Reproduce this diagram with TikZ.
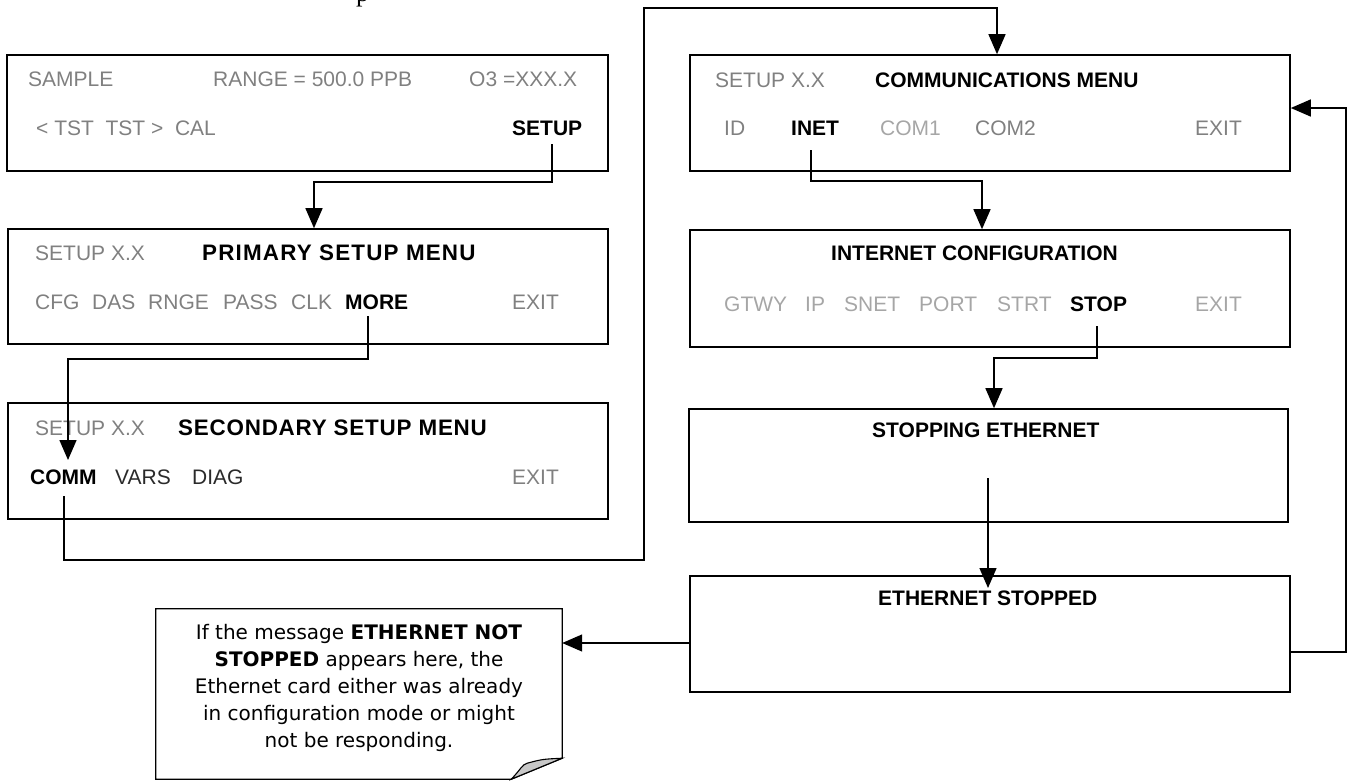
\documentclass[tikz,border=0pt]{standalone}
\usepackage{fontspec}
\setmainfont{Liberation Sans}
\newfontfamily\notefont{DejaVu Sans}
\newfontfamily\serifp{Liberation Serif}
\newfontfamily\titleA{Liberation Sans}[LetterSpace=5.3]
\newfontfamily\titleB{Liberation Sans}[LetterSpace=3.5]
\usetikzlibrary{arrows.meta,calc}
\definecolor{gA}{HTML}{808080}
\definecolor{gB}{HTML}{A6A6A6}
\definecolor{dk}{HTML}{2A2A2A}
\definecolor{foldgray}{HTML}{C8C8C8}
\tikzset{
  menubox/.style={draw, line width=1.6pt, inner sep=0pt},
  txt/.style={anchor=base west, inner sep=0pt, font=\fontsize{21pt}{25pt}\selectfont},
  gtxt/.style={txt, text=gA},
  ltxt/.style={txt, text=gB},
  dtxt/.style={txt, text=dk},
  btxt/.style={txt, font=\fontsize{21pt}{25pt}\selectfont\bfseries},
  ttlA/.style={txt, font=\titleA\fontsize{22.4pt}{26pt}\selectfont\bfseries},
  ttlB/.style={txt, font=\titleB\fontsize{22.4pt}{26pt}\selectfont\bfseries},
  conn/.style={line width=1.4pt, -{Triangle[length=20pt,width=17pt]}},
}
\begin{document}
\begin{tikzpicture}[x=1pt,y=-1pt]
\useasboundingbox (0,0) rectangle (1349,782);
% clipped glyph at the top
\node[anchor=base west, inner sep=0pt, font=\serifp\fontsize{26pt}{26pt}\selectfont] (ptop) at (356,1) {p};

% boxes
\node[menubox, minimum width=601pt, minimum height=116pt] (b1) at (307.5,113) {};
\node[menubox, minimum width=600pt, minimum height=115pt] (b2) at (308,286.5) {};
\node[menubox, minimum width=600pt, minimum height=116pt] (b3) at (308,461) {};
\node[menubox, minimum width=600pt, minimum height=116pt] (b4) at (990,113) {};
\node[menubox, minimum width=600pt, minimum height=117pt] (b5) at (990,288.5) {};
\node[menubox, minimum width=599pt, minimum height=113pt] (b6) at (988.5,465.5) {};
\node[menubox, minimum width=600pt, minimum height=116pt] (b7) at (990,634) {};

% box 1
\node[gtxt] (t11) at (28,86.5) {SAMPLE};
\node[gtxt] (t12) at (213,86.5) {RANGE = 500.0 PPB};
\node[gtxt] (t13) at (469,86.5) {O3 =XXX.X};
\node[gtxt] (t14) at (36,135.5) {< TST\ \ TST >\ \ CAL};
\node[btxt] (tsetup) at (512,135.5) {SETUP};

% box 2
\node[gtxt] (t21) at (35,260.5) {SETUP X.X};
\node[ttlA] (t22) at (202,260.5) {PRIMARY SETUP MENU};
\node[gtxt] (t23) at (35,309.5) {CFG};
\node[gtxt] (t24) at (92,309.5) {DAS};
\node[gtxt] (t25) at (148,309.5) {RNGE};
\node[gtxt] (t26) at (223,309.5) {PASS};
\node[gtxt] (t27) at (291,309.5) {CLK};
\node[btxt] (tmore) at (345,309.5) {MORE};
\node[gtxt] (t28) at (512,309.5) {EXIT};

% box 3
\node[gtxt] (t31) at (35,435.5) {SETUP X.X};
\node[ttlB] (t32) at (178,435.5) {SECONDARY SETUP MENU};
\node[btxt] (tcomm) at (30,484.5) {COMM};
\node[dtxt] (t33) at (115,484.5) {VARS};
\node[dtxt] (t34) at (192,484.5) {DIAG};
\node[gtxt] (t35) at (512,484.5) {EXIT};

% box 4
\node[gtxt] (t41) at (715,87.5) {SETUP X.X};
\node[btxt] (t42) at (875,87.5) {COMMUNICATIONS MENU};
\node[gtxt] (t43) at (724,135.5) {ID};
\node[btxt] (tinet) at (791,135.5) {INET};
\node[ltxt] (t44) at (880,135.5) {COM1};
\node[gtxt] (t45) at (975,135.5) {COM2};
\node[gtxt] (t46) at (1195,135.5) {EXIT};

% box 5
\node[btxt] (t51) at (831,260.5) {INTERNET CONFIGURATION};
\node[ltxt] (t52) at (724,311.5) {GTWY};
\node[ltxt] (t53) at (805,311.5) {IP};
\node[ltxt] (t54) at (844,311.5) {SNET};
\node[ltxt] (t55) at (919,311.5) {PORT};
\node[ltxt] (t56) at (997,311.5) {STRT};
\node[btxt] (tstop) at (1070,311.5) {STOP};
\node[ltxt] (t57) at (1195,311.5) {EXIT};

% box 6, 7
\node[btxt] (t61) at (872,437.5) {STOPPING ETHERNET};
\node[btxt] (t71) at (878,605.5) {ETHERNET STOPPED};

% note
\node[minimum width=406pt, minimum height=170pt, inner sep=0pt] (note) at (359,694) {};
\draw[line width=1.3pt, fill=white] (note.north west) -- (note.north east) -- ($(note.south east)+(0,-21)$) -- ($(note.south east)+(-51,0)$) -- (note.south west) -- cycle;
\filldraw[fill=foldgray, line width=1.1pt] ($(note.south east)+(-51,0)$) .. controls ($(note.south east)+(-42,-9)$) and ($(note.south east)+(-40,-15)$) .. ($(note.south east)+(-35,-16)$) .. controls ($(note.south east)+(-20,-20)$) .. ($(note.south east)+(0,-21)$) -- cycle;
\node[font=\notefont\fontsize{20pt}{27pt}\selectfont, align=center, inner sep=0pt] (notetxt) at (359,688)
  {If the message \textbf{ETHERNET NOT}\\ \textbf{STOPPED} appears here, the\\ Ethernet card either was already\\ in configuration mode or might\\ not be responding.};

% connectors
\coordinate (s1) at (552,144);
\coordinate (k1) at (314,182);
\draw[conn] (s1) |- (k1) -- (k1 |- b2.north);

\coordinate (s2) at (368,316);
\coordinate (k2) at (68,359);
\coordinate (e2) at (68,460);
\draw[conn] (s2) |- (k2) -- (e2);

\coordinate (s3) at (64,496);
\coordinate (k3a) at (644,560);
\coordinate (k3b) at (644,8);
\coordinate (k3c) at (997,8);
\draw[conn] (s3) |- (k3a) -- (k3b) -- (k3c) -- (k3c |- b4.north);

\coordinate (s4) at (811,150);
\coordinate (k4) at (982,181);
\draw[conn] (s4) |- (k4) -- (k4 |- b5.north);

\coordinate (s5) at (1097,326);
\coordinate (k5) at (994,358);
\draw[conn] (s5) |- (k5) -- (k5 |- b6.north);

\coordinate (s6) at (988,478);
\coordinate (e6) at (988,588);
\draw[conn] (s6) -- (e6);

\coordinate (s7) at (690,643);
\draw[conn] (s7) -- (s7 -| note.east);

\coordinate (s8) at (1290,652);
\coordinate (k8) at (1346,108);
\draw[conn] (s8) -| (k8) -- (k8 -| b4.east);
\end{tikzpicture}
\end{document}
